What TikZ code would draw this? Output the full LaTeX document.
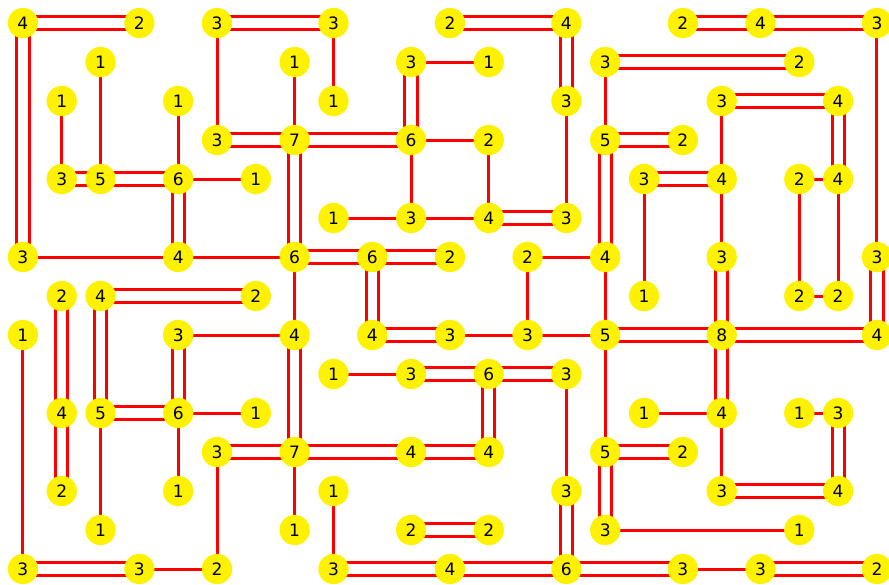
\documentclass[tikz,border=0pt]{standalone}
\usepackage{fontspec}
\setmainfont{DejaVu Sans}
\usetikzlibrary{backgrounds}

\begin{document}
\begin{tikzpicture}[x=1cm, y=1.0046cm,
    every node/.style={circle, fill=yellow, minimum size=0.78cm, inner sep=0pt, font=\fontsize{12.5}{14}\selectfont},
    bridge/.style={red, line width=2.2pt},
    dbridge/.style={bridge, double=white, double distance=6.8pt}]
        \useasboundingbox (-0.59,0.59) rectangle (22.31,-14.41);
        % Define the nodes
        \node (n0-0) at (0,0) {4};
        \node (n3-0) at (3,0) {2};
        \node (n5-0) at (5,0) {3};
        \node (n8-0) at (8,0) {3};
        \node (n11-0) at (11,0) {2};
        \node (n14-0) at (14,0) {4};
        \node (n17-0) at (17,0) {2};
        \node (n19-0) at (19,0) {4};
        \node (n22-0) at (22,0) {3};

        \node (n2-1) at (2,-1) {1};
        \node (n7-1) at (7,-1) {1};
        \node (n10-1) at (10,-1) {3};
        \node (n12-1) at (12,-1) {1};
        \node (n15-1) at (15,-1) {3};
        \node (n20-1) at (20,-1) {2};

        \node (n1-2) at (1,-2) {1};
        \node (n4-2) at (4,-2) {1};
        \node (n8-2) at (8,-2) {1};
        \node (n14-2) at (14,-2) {3};
        \node (n18-2) at (18,-2) {3};
        \node (n21-2) at (21,-2) {4};

        \node (n5-3) at (5,-3) {3};
        \node (n7-3) at (7,-3) {7};
        \node (n10-3) at (10,-3) {6};
        \node (n12-3) at (12,-3) {2};
        \node (n15-3) at (15,-3) {5};
        \node (n17-3) at (17,-3) {2};

        \node (n1-4) at (1,-4) {3};
        \node (n2-4) at (2,-4) {5};
        \node (n4-4) at (4,-4) {6};
        \node (n6-4) at (6,-4) {1};
        \node (n16-4) at (16,-4) {3};
        \node (n18-4) at (18,-4) {4};
        \node (n20-4) at (20,-4) {2};
        \node (n21-4) at (21,-4) {4};

        \node (n8-5) at (8,-5) {1};
        \node (n10-5) at (10,-5) {3};
        \node (n12-5) at (12,-5) {4};
        \node (n14-5) at (14,-5) {3};

        \node (n0-6) at (0,-6) {3};
        \node (n4-6) at (4,-6) {4};
        \node (n7-6) at (7,-6) {6};
        \node (n9-6) at (9,-6) {6};
        \node (n11-6) at (11,-6) {2};
        \node (n13-6) at (13,-6) {2};
        \node (n15-6) at (15,-6) {4};
        \node (n18-6) at (18,-6) {3};
        \node (n22-6) at (22,-6) {3};

        \node (n1-7) at (1,-7) {2};
        \node (n2-7) at (2,-7) {4};
        \node (n6-7) at (6,-7) {2};
        \node (n16-7) at (16,-7) {1};
        \node (n20-7) at (20,-7) {2};
        \node (n21-7) at (21,-7) {2};

        \node (n0-8) at (0,-8) {1};
        \node (n4-8) at (4,-8) {3};
        \node (n7-8) at (7,-8) {4};
        \node (n9-8) at (9,-8) {4};
        \node (n11-8) at (11,-8) {3};
        \node (n13-8) at (13,-8) {3};
        \node (n15-8) at (15,-8) {5};
        \node (n18-8) at (18,-8) {8};
        \node (n22-8) at (22,-8) {4};

        \node (n8-9) at (8,-9) {1};
        \node (n10-9) at (10,-9) {3};
        \node (n12-9) at (12,-9) {6};
        \node (n14-9) at (14,-9) {3};

        \node (n1-10) at (1,-10) {4};
        \node (n2-10) at (2,-10) {5};
        \node (n4-10) at (4,-10) {6};
        \node (n6-10) at (6,-10) {1};
        \node (n16-10) at (16,-10) {1};
        \node (n18-10) at (18,-10) {4};
        \node (n20-10) at (20,-10) {1};
        \node (n21-10) at (21,-10) {3};

        \node (n5-11) at (5,-11) {3};
        \node (n7-11) at (7,-11) {7};
        \node (n10-11) at (10,-11) {4};
        \node (n12-11) at (12,-11) {4};
        \node (n15-11) at (15,-11) {5};
        \node (n17-11) at (17,-11) {2};

        \node (n1-12) at (1,-12) {2};
        \node (n4-12) at (4,-12) {1};
        \node (n8-12) at (8,-12) {1};
        \node (n14-12) at (14,-12) {3};
        \node (n18-12) at (18,-12) {3};
        \node (n21-12) at (21,-12) {4};

        \node (n2-13) at (2,-13) {1};
        \node (n7-13) at (7,-13) {1};
        \node (n10-13) at (10,-13) {2};
        \node (n12-13) at (12,-13) {2};
        \node (n15-13) at (15,-13) {3};
        \node (n20-13) at (20,-13) {1};

        \node (n0-14) at (0,-14) {3};
        \node (n3-14) at (3,-14) {3};
        \node (n5-14) at (5,-14) {2};
        \node (n8-14) at (8,-14) {3};
        \node (n11-14) at (11,-14) {4};
        \node (n14-14) at (14,-14) {6};
        \node (n17-14) at (17,-14) {3};
        \node (n19-14) at (19,-14) {3};
        \node (n22-14) at (22,-14) {2};

        \begin{scope}[on background layer]
        % single bridges
        \draw[bridge] (n5-0.center) -- (n5-3.center);
        \draw[bridge] (n8-0.center) -- (n8-2.center);
        \draw[bridge] (n22-0.center) -- (n22-6.center);
        \draw[bridge] (n2-1.center) -- (n2-4.center);
        \draw[bridge] (n7-1.center) -- (n7-3.center);
        \draw[bridge] (n10-1.center) -- (n12-1.center);
        \draw[bridge] (n15-1.center) -- (n15-3.center);
        \draw[bridge] (n1-2.center) -- (n1-4.center);
        \draw[bridge] (n4-2.center) -- (n4-4.center);
        \draw[bridge] (n14-2.center) -- (n14-5.center);
        \draw[bridge] (n18-2.center) -- (n18-4.center);
        \draw[bridge] (n10-3.center) -- (n12-3.center);
        \draw[bridge] (n10-3.center) -- (n10-5.center);
        \draw[bridge] (n12-3.center) -- (n12-5.center);
        \draw[bridge] (n4-4.center) -- (n6-4.center);
        \draw[bridge] (n16-4.center) -- (n16-7.center);
        \draw[bridge] (n18-4.center) -- (n18-6.center);
        \draw[bridge] (n20-4.center) -- (n21-4.center);
        \draw[bridge] (n20-4.center) -- (n20-7.center);
        \draw[bridge] (n21-4.center) -- (n21-7.center);
        \draw[bridge] (n8-5.center) -- (n10-5.center);
        \draw[bridge] (n10-5.center) -- (n12-5.center);
        \draw[bridge] (n0-6.center) -- (n4-6.center);
        \draw[bridge] (n4-6.center) -- (n7-6.center);
        \draw[bridge] (n7-6.center) -- (n7-8.center);
        \draw[bridge] (n13-6.center) -- (n15-6.center);
        \draw[bridge] (n13-6.center) -- (n13-8.center);
        \draw[bridge] (n15-6.center) -- (n15-8.center);
        \draw[bridge] (n20-7.center) -- (n21-7.center);
        \draw[bridge] (n0-8.center) -- (n0-14.center);
        \draw[bridge] (n4-8.center) -- (n7-8.center);
        \draw[bridge] (n11-8.center) -- (n13-8.center);
        \draw[bridge] (n13-8.center) -- (n15-8.center);
        \draw[bridge] (n15-8.center) -- (n15-11.center);
        \draw[bridge] (n8-9.center) -- (n10-9.center);
        \draw[bridge] (n14-9.center) -- (n14-12.center);
        \draw[bridge] (n2-10.center) -- (n2-13.center);
        \draw[bridge] (n4-10.center) -- (n6-10.center);
        \draw[bridge] (n4-10.center) -- (n4-12.center);
        \draw[bridge] (n16-10.center) -- (n18-10.center);
        \draw[bridge] (n18-10.center) -- (n18-12.center);
        \draw[bridge] (n20-10.center) -- (n21-10.center);
        \draw[bridge] (n5-11.center) -- (n5-14.center);
        \draw[bridge] (n7-11.center) -- (n7-13.center);
        \draw[bridge] (n8-12.center) -- (n8-14.center);
        \draw[bridge] (n15-13.center) -- (n20-13.center);
        \draw[bridge] (n3-14.center) -- (n5-14.center);
        \draw[bridge] (n17-14.center) -- (n19-14.center);
        % double bridges
        \draw[dbridge] (n0-0.center) -- (n3-0.center);
        \draw[dbridge] (n5-0.center) -- (n8-0.center);
        \draw[dbridge] (n11-0.center) -- (n14-0.center);
        \draw[dbridge] (n17-0.center) -- (n19-0.center);
        \draw[dbridge] (n19-0.center) -- (n22-0.center);
        \draw[dbridge] (n0-0.center) -- (n0-6.center);
        \draw[dbridge] (n14-0.center) -- (n14-2.center);
        \draw[dbridge] (n10-1.center) -- (n10-3.center);
        \draw[dbridge] (n15-1.center) -- (n20-1.center);
        \draw[dbridge] (n18-2.center) -- (n21-2.center);
        \draw[dbridge] (n21-2.center) -- (n21-4.center);
        \draw[dbridge] (n5-3.center) -- (n7-3.center);
        \draw[dbridge] (n7-3.center) -- (n10-3.center);
        \draw[dbridge] (n7-3.center) -- (n7-6.center);
        \draw[dbridge] (n15-3.center) -- (n17-3.center);
        \draw[dbridge] (n15-3.center) -- (n15-6.center);
        \draw[dbridge] (n1-4.center) -- (n2-4.center);
        \draw[dbridge] (n2-4.center) -- (n4-4.center);
        \draw[dbridge] (n4-4.center) -- (n4-6.center);
        \draw[dbridge] (n16-4.center) -- (n18-4.center);
        \draw[dbridge] (n12-5.center) -- (n14-5.center);
        \draw[dbridge] (n7-6.center) -- (n9-6.center);
        \draw[dbridge] (n9-6.center) -- (n11-6.center);
        \draw[dbridge] (n9-6.center) -- (n9-8.center);
        \draw[dbridge] (n18-6.center) -- (n18-8.center);
        \draw[dbridge] (n22-6.center) -- (n22-8.center);
        \draw[dbridge] (n1-7.center) -- (n1-10.center);
        \draw[dbridge] (n2-7.center) -- (n6-7.center);
        \draw[dbridge] (n2-7.center) -- (n2-10.center);
        \draw[dbridge] (n4-8.center) -- (n4-10.center);
        \draw[dbridge] (n7-8.center) -- (n7-11.center);
        \draw[dbridge] (n9-8.center) -- (n11-8.center);
        \draw[dbridge] (n15-8.center) -- (n18-8.center);
        \draw[dbridge] (n18-8.center) -- (n22-8.center);
        \draw[dbridge] (n18-8.center) -- (n18-10.center);
        \draw[dbridge] (n10-9.center) -- (n12-9.center);
        \draw[dbridge] (n12-9.center) -- (n14-9.center);
        \draw[dbridge] (n12-9.center) -- (n12-11.center);
        \draw[dbridge] (n1-10.center) -- (n1-12.center);
        \draw[dbridge] (n2-10.center) -- (n4-10.center);
        \draw[dbridge] (n21-10.center) -- (n21-12.center);
        \draw[dbridge] (n5-11.center) -- (n7-11.center);
        \draw[dbridge] (n7-11.center) -- (n10-11.center);
        \draw[dbridge] (n10-11.center) -- (n12-11.center);
        \draw[dbridge] (n15-11.center) -- (n17-11.center);
        \draw[dbridge] (n15-11.center) -- (n15-13.center);
        \draw[dbridge] (n14-12.center) -- (n14-14.center);
        \draw[dbridge] (n18-12.center) -- (n21-12.center);
        \draw[dbridge] (n10-13.center) -- (n12-13.center);
        \draw[dbridge] (n0-14.center) -- (n3-14.center);
        \draw[dbridge] (n8-14.center) -- (n11-14.center);
        \draw[dbridge] (n11-14.center) -- (n14-14.center);
        \draw[dbridge] (n14-14.center) -- (n17-14.center);
        \draw[dbridge] (n19-14.center) -- (n22-14.center);
        \end{scope}

    \end{tikzpicture}
\end{document}
